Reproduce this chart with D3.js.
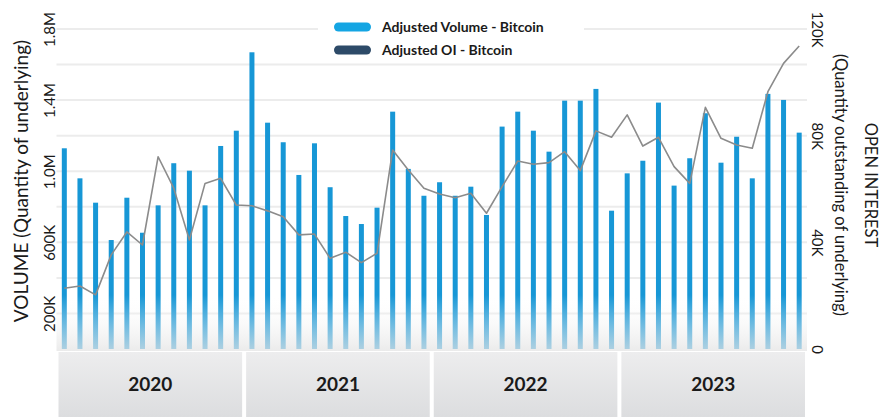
<!DOCTYPE html>
<html lang="en">
<head>
<meta charset="UTF-8">
<title>Bitcoin Adjusted Volume and OI</title>
<script src="https://d3js.org/d3.v7.min.js"></script>
<style>
  body { margin: 0; background: #fff; }
  text { font-family: Lato, "Open Sans", sans-serif; fill: #1a1a1a; }
</style>
</head>
<body>
<svg width="880" height="417"></svg>
<script>
// months, Jan 2020 .. Dec 2023
const months = [
  "2020-01","2020-02","2020-03","2020-04","2020-05","2020-06","2020-07","2020-08","2020-09","2020-10","2020-11","2020-12",
  "2021-01","2021-02","2021-03","2021-04","2021-05","2021-06","2021-07","2021-08","2021-09","2021-10","2021-11","2021-12",
  "2022-01","2022-02","2022-03","2022-04","2022-05","2022-06","2022-07","2022-08","2022-09","2022-10","2022-11","2022-12",
  "2023-01","2023-02","2023-03","2023-04","2023-05","2023-06","2023-07","2023-08","2023-09","2023-10","2023-11","2023-12"
];
const years = ["2020", "2021", "2022", "2023"];

// adjusted volume (quantity of underlying)
const volume = [
  1129000, 960000, 823000, 613000, 851000, 654000, 808000, 1045000, 1003000, 808000, 1142000, 1228000,
  1669000, 1273000, 1163000, 979000, 1157000, 910000, 748000, 703000, 795000, 1335000, 1013000, 862000,
  938000, 862000, 913000, 754000, 1251000, 1335000, 1228000, 1110000, 1397000, 1397000, 1463000, 778000,
  988000, 1059000, 1386000, 919000, 1073000, 1326000, 1048000, 1194000, 960000, 1435000, 1401000, 1217000
];

// adjusted open interest
const openInterest = [
  22800, 23600, 20300, 35300, 43900, 39000, 72100, 60300, 40900, 62100, 64000, 54000,
  53700, 51800, 49600, 42800, 43100, 34000, 36300, 32400, 35900, 74600, 67100, 60300,
  58100, 56700, 58400, 50900, 60900, 70500, 69300, 69900, 74000, 66900, 81800, 79400,
  87800, 76100, 79400, 68400, 62100, 90600, 79000, 76500, 75300, 96500, 107100, 113600
];

const volTicks = [200000, 600000, 1000000, 1400000, 1800000];
const gridTicks = [200000, 400000, 600000, 800000, 1000000, 1200000, 1400000, 1600000, 1800000];
const oiTicks = [0, 40000, 80000, 120000];

const svg = d3.select("svg");
const plotL = 56.5, plotR = 807, plotT = 29, plotB = 349;

const x = d3.scaleBand().domain(months).range([plotL, plotR]);
const yVol = d3.scaleLinear().domain([0, 1800000]).range([plotB, plotT]);
const yOI = d3.scaleLinear().domain([0, 120000]).range([plotB, plotT]);

const defs = svg.append("defs");
const fade = defs.append("linearGradient")
  .attr("id", "fade").attr("x1", 0).attr("y1", 0).attr("x2", 0).attr("y2", 1);
fade.append("stop").attr("offset", "0%").attr("stop-color", "#ffffff").attr("stop-opacity", 0);
fade.append("stop").attr("offset", "100%").attr("stop-color", "#e4e4e4").attr("stop-opacity", 0.75);

const band = defs.append("linearGradient")
  .attr("id", "band").attr("x1", 0).attr("y1", 0).attr("x2", 0).attr("y2", 1);
band.append("stop").attr("offset", "0%").attr("stop-color", "#ededee");
band.append("stop").attr("offset", "100%").attr("stop-color", "#dcdddf");

// gridlines
svg.append("g")
  .selectAll("line")
  .data(gridTicks)
  .join("line")
  .attr("x1", plotL).attr("x2", plotR)
  .attr("y1", d => yVol(d)).attr("y2", d => yVol(d))
  .attr("stroke", "#ececec")
  .attr("stroke-width", 2);

// legend backdrop hides the gridlines behind it
svg.append("rect")
  .attr("x", 318).attr("y", 8).attr("width", 266).attr("height", 55)
  .attr("fill", "#fff");

// volume bars
const barW = 5;
svg.append("g")
  .selectAll("rect")
  .data(volume)
  .join("rect")
  .attr("x", (d, i) => x(months[i]) + x.bandwidth() / 2 - barW / 2)
  .attr("y", d => yVol(d))
  .attr("width", barW)
  .attr("height", d => yVol(0) - yVol(d))
  .attr("fill", "#1797d6");

// soft fade at the bottom of the plot
svg.append("rect")
  .attr("x", plotL).attr("y", 295)
  .attr("width", plotR - plotL).attr("height", plotB + 2 - 295)
  .attr("fill", "url(#fade)");

// open interest line
const line = d3.line()
  .x((d, i) => x(months[i]) + x.bandwidth() / 2)
  .y(d => yOI(d));

svg.append("path")
  .datum(openInterest)
  .attr("d", line)
  .attr("fill", "none")
  .attr("stroke", "#8b8b8b")
  .attr("stroke-width", 1.6)
  .attr("stroke-linejoin", "round");

// year bands
const yearG = svg.append("g");
years.forEach((yr, k) => {
  const x0 = x(months[k * 12]) + 2;
  const x1 = x(months[k * 12 + 11]) + x.bandwidth() - 2;
  yearG.append("rect")
    .attr("x", x0).attr("y", 352)
    .attr("width", x1 - x0).attr("height", 65)
    .attr("fill", "url(#band)");
  yearG.append("text")
    .attr("x", (x0 + x1) / 2).attr("y", 384)
    .attr("dy", "0.35em")
    .attr("text-anchor", "middle")
    .attr("font-size", 19)
    .attr("font-weight", 700)
    .text(yr);
});

// left axis
const fmtVol = d => d >= 1000000 ? (d / 1000000).toFixed(1) + "M" : (d / 1000) + "K";
const axL = svg.append("g")
  .attr("transform", `translate(${plotL},0)`)
  .call(d3.axisLeft(yVol).tickValues(volTicks).tickFormat(fmtVol).tickSize(0));
axL.select(".domain").remove();
axL.selectAll("text")
  .attr("x", null).attr("dy", null)
  .attr("transform", "translate(-2,0) rotate(-90)")
  .attr("text-anchor", "middle")
  .attr("font-size", 15)
  .attr("font-family", "Lato, sans-serif")
  .attr("fill", "#1a1a1a");

// right axis
const axR = svg.append("g")
  .attr("transform", `translate(${plotR},0)`)
  .call(d3.axisRight(yOI).tickValues(oiTicks).tickFormat(d => d === 0 ? "0" : (d / 1000) + "K").tickSize(0));
axR.select(".domain").remove();
axR.selectAll("text")
  .attr("x", null).attr("dy", null)
  .attr("transform", "translate(5,0) rotate(90)")
  .attr("text-anchor", "middle")
  .attr("font-size", 15)
  .attr("font-family", "Lato, sans-serif")
  .attr("fill", "#1a1a1a");

// axis titles
svg.append("text")
  .attr("transform", "translate(28,181) rotate(-90)")
  .attr("text-anchor", "middle")
  .attr("font-size", 19)
  .text("VOLUME (Quantity of underlying)");

const rt = svg.append("text")
  .attr("transform", "translate(835,185) rotate(90)")
  .attr("text-anchor", "middle")
  .attr("font-size", 16.5);
rt.append("tspan").attr("x", 0).attr("dy", "-1.8em").text("OPEN INTEREST");
rt.append("tspan").attr("x", 0).attr("dy", "1.8em").text("(Quantity outstanding of underlying)");

// legend
const legend = [
  { label: "Adjusted Volume - Bitcoin", color: "#14a5e3" },
  { label: "Adjusted OI - Bitcoin", color: "#2d4a68" }
];
const lg = svg.append("g").attr("transform", "translate(334,27)");
legend.forEach((d, i) => {
  lg.append("rect")
    .attr("x", 0).attr("y", i * 23 - 4.5)
    .attr("width", 37).attr("height", 9)
    .attr("rx", 4.5)
    .attr("fill", d.color);
  lg.append("text")
    .attr("x", 48).attr("y", i * 23)
    .attr("dy", "0.35em")
    .attr("font-size", 14)
    .attr("font-weight", 700)
    .text(d.label);
});
</script>
</body>
</html>
